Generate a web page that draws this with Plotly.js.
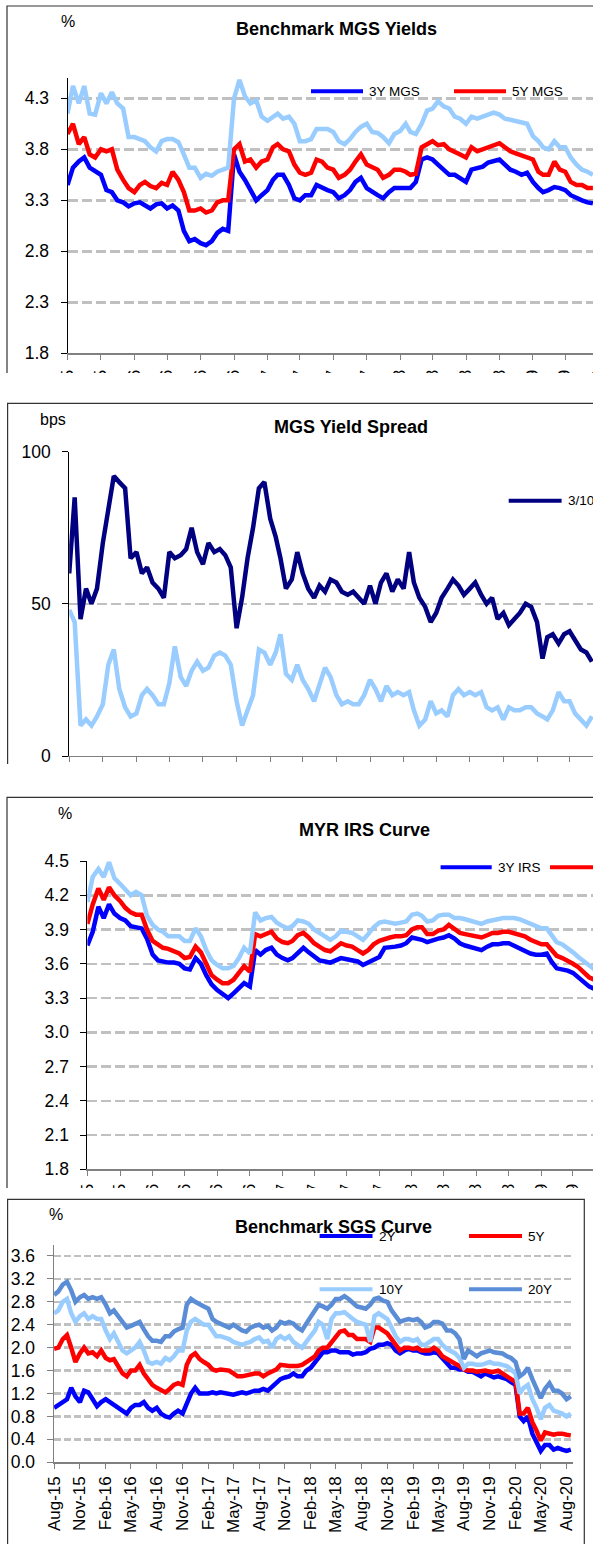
<!DOCTYPE html>
<html>
<head>
<meta charset="utf-8">
<script src="https://cdn.plot.ly/plotly-3.0.1.min.js"></script>
<style>
  html, body { margin: 0; padding: 0; background: #fff; width: 593px; height: 1544px; overflow: hidden; }
  .panel { position: absolute; left: 0; width: 593px; overflow: hidden; }
</style>
</head>
<body>
<div id="p1" class="panel" style="top:0px;height:373px"></div>
<div id="p2" class="panel" style="top:390px;height:374px"></div>
<div id="p3" class="panel" style="top:790px;height:398px"></div>
<div id="p4" class="panel" style="top:1190px;height:354px"></div>
<script>
// ---- axis ticks (quarterly) ----
const tickDates = ['2015-08-01','2015-11-01','2016-02-01','2016-05-01','2016-08-01','2016-11-01',
  '2017-02-01','2017-05-01','2017-08-01','2017-11-01','2018-02-01','2018-05-01','2018-08-01',
  '2018-11-01','2019-02-01','2019-05-01','2019-08-01','2019-11-01','2020-02-01','2020-05-01','2020-08-01'];
const tickLabels = ['Aug-15','Nov-15','Feb-16','May-16','Aug-16','Nov-16','Feb-17','May-17','Aug-17',
  'Nov-17','Feb-18','May-18','Aug-18','Nov-18','Feb-19','May-19','Aug-19','Nov-19','Feb-20','May-20','Aug-20'];

// ---- Benchmark MGS yields (%), twice-monthly from Aug-15 ----
const mgsNames = ['3Y MGS','5Y MGS','10Y MGS'];
const mgs3y = [3.45,3.62,3.68,3.72,3.62,3.58,3.55,3.40,3.38,3.30,
  3.28,3.24,3.27,3.28,3.25,3.22,3.26,3.27,3.22,3.25,
  3.20,3.00,2.90,2.92,2.88,2.86,2.90,2.98,3.02,3.00,
  3.75,3.58,3.50,3.40,3.30,3.35,3.40,3.50,3.55,3.55,
  3.45,3.32,3.30,3.35,3.35,3.45,3.42,3.40,3.38,3.32,
  3.35,3.40,3.48,3.52,3.42,3.38,3.35,3.32,3.38,3.42,
  3.42,3.43,3.42,3.48,3.70,3.72,3.70,3.65,3.60,3.55,
  3.55,3.52,3.48,3.60,3.62,3.63,3.67,3.68,3.70,3.65,
  3.60,3.58,3.55,3.57,3.48,3.42,3.38,3.40,3.43,3.42,
  3.40,3.35,3.32,3.30,3.28,3.27];
const mgs5y = [3.95,4.05,3.85,3.92,3.75,3.72,3.80,3.78,3.80,3.60,
  3.50,3.42,3.38,3.45,3.48,3.44,3.42,3.47,3.45,3.58,
  3.50,3.38,3.20,3.20,3.22,3.18,3.20,3.28,3.30,3.30,
  3.80,3.85,3.68,3.70,3.62,3.68,3.70,3.82,3.85,3.80,
  3.78,3.65,3.57,3.55,3.57,3.70,3.68,3.62,3.60,3.52,
  3.55,3.60,3.68,3.75,3.65,3.62,3.60,3.52,3.55,3.60,
  3.60,3.58,3.55,3.56,3.82,3.85,3.88,3.84,3.85,3.80,
  3.78,3.75,3.72,3.82,3.78,3.80,3.82,3.83,3.86,3.82,
  3.78,3.76,3.74,3.72,3.70,3.58,3.55,3.55,3.68,3.60,
  3.58,3.48,3.45,3.45,3.42,3.42];
const mgs10y = [4.15,4.42,4.25,4.42,4.15,4.14,4.35,4.25,4.36,4.25,
  4.20,3.92,3.92,3.90,3.88,3.82,3.78,3.88,3.90,3.90,
  3.87,3.75,3.62,3.62,3.52,3.56,3.54,3.58,3.60,3.62,
  4.30,4.48,4.32,4.25,4.28,4.12,4.08,4.12,4.15,4.10,
  4.12,4.05,3.88,3.88,3.90,4.00,4.00,4.00,3.97,3.88,
  3.85,3.90,3.97,4.02,4.05,3.97,3.96,3.92,3.86,3.95,
  3.98,4.05,3.97,3.95,4.05,4.18,4.20,4.27,4.22,4.20,
  4.12,4.10,4.05,4.12,4.10,4.12,4.15,4.16,4.14,4.10,
  4.09,4.08,4.07,4.05,3.93,3.88,3.82,3.80,3.88,3.82,
  3.82,3.72,3.65,3.60,3.58,3.55];

// ---- MGS yield spreads (bps) ----
const spreadNames = ['3/10','5/10'];
const spread310 = [60,85,45,55,50,55,70,80,92,90,
  88,65,67,60,62,57,55,52,67,65,
  66,68,75,67,63,70,67,68,66,62,
  42,52,65,75,88,90,78,72,65,55,
  58,67,60,55,52,56,54,58,57,54,
  53,54,52,50,56,50,57,60,54,58,
  55,67,57,52,49,44,47,52,55,58,
  56,53,55,57,53,50,52,45,47,43,
  45,47,50,49,44,32,39,40,37,40,
  41,38,35,34,31];
const spread510 = [48,44,10,12,10,13,17,30,35,22,
  16,13,14,20,22,20,17,17,24,36,
  26,23,28,31,28,29,33,34,33,30,
  18,10,15,20,35,34,30,34,40,27,
  25,30,25,22,18,24,29,26,20,17,
  18,17,17,20,25,22,18,23,20,21,
  20,21,15,10,12,18,14,15,13,20,
  22,20,21,20,21,16,15,16,12,16,
  15,15,16,16,14,13,12,15,21,18,
  18,14,12,10,13];

// ---- MYR IRS (%) ----
const irsNames = ['3Y IRS','5Y IRS','10Y IRS'];
const irs3y = [3.76,3.88,4.10,4.00,4.12,4.04,4.00,3.98,3.93,3.92,
  3.91,3.82,3.68,3.63,3.62,3.61,3.61,3.60,3.56,3.55,
  3.65,3.60,3.50,3.42,3.37,3.34,3.30,3.34,3.38,3.43,
  3.40,3.72,3.68,3.72,3.74,3.68,3.65,3.63,3.65,3.70,
  3.74,3.70,3.66,3.63,3.62,3.61,3.63,3.65,3.64,3.63,
  3.62,3.59,3.61,3.63,3.66,3.74,3.75,3.75,3.76,3.78,
  3.83,3.82,3.81,3.79,3.81,3.82,3.83,3.85,3.82,3.78,
  3.76,3.75,3.73,3.72,3.75,3.77,3.77,3.78,3.78,3.76,
  3.74,3.71,3.69,3.68,3.68,3.69,3.62,3.56,3.55,3.54,
  3.52,3.48,3.43,3.40,3.38];
const irs5y = [3.95,4.12,4.26,4.16,4.27,4.20,4.15,4.09,4.05,4.03,
  4.03,3.90,3.80,3.77,3.74,3.73,3.71,3.69,3.65,3.66,
  3.75,3.70,3.60,3.50,3.46,3.43,3.43,3.46,3.52,3.58,
  3.53,3.86,3.84,3.86,3.88,3.82,3.79,3.78,3.80,3.85,
  3.87,3.83,3.78,3.75,3.72,3.71,3.74,3.78,3.76,3.75,
  3.72,3.69,3.72,3.77,3.80,3.82,3.83,3.84,3.84,3.85,
  3.90,3.92,3.92,3.86,3.86,3.89,3.90,3.94,3.90,3.87,
  3.86,3.85,3.84,3.83,3.85,3.87,3.87,3.88,3.88,3.87,
  3.86,3.84,3.81,3.79,3.77,3.77,3.72,3.67,3.65,3.63,
  3.60,3.57,3.53,3.48,3.46];
const irs10y = [4.14,4.36,4.43,4.36,4.49,4.35,4.30,4.25,4.20,4.23,
  4.20,4.02,3.94,3.90,3.88,3.84,3.84,3.84,3.80,3.80,
  3.91,3.84,3.72,3.63,3.59,3.56,3.56,3.58,3.65,3.74,
  3.69,4.05,3.98,4.00,4.01,3.96,3.93,3.91,3.93,3.98,
  3.97,3.95,3.90,3.87,3.84,3.81,3.84,3.89,3.88,3.87,
  3.84,3.81,3.86,3.92,3.96,3.97,3.96,3.95,3.96,3.97,
  4.03,4.04,4.02,3.97,3.98,4.02,4.03,4.03,4.00,4.00,
  3.99,3.98,3.97,3.95,3.97,3.98,3.99,4.00,4.00,4.00,
  3.99,3.97,3.95,3.93,3.91,3.91,3.85,3.79,3.77,3.74,
  3.70,3.66,3.62,3.58,3.55];

// ---- Benchmark SGS (%) ----
const sgsNames = ['2Y','5Y','10Y','20Y'];
const sgs2y = [0.95,1.00,1.05,1.10,1.30,1.15,1.05,1.25,1.22,1.10,
  0.98,1.05,1.10,1.05,1.00,0.95,0.90,0.85,0.95,1.00,
  1.00,1.05,0.95,0.90,0.95,0.85,0.80,0.78,0.85,0.90,
  0.85,1.05,1.20,1.30,1.20,1.20,1.20,1.22,1.20,1.22,
  1.20,1.20,1.18,1.20,1.22,1.20,1.22,1.25,1.25,1.28,
  1.25,1.32,1.40,1.45,1.48,1.50,1.55,1.50,1.50,1.60,
  1.65,1.75,1.85,1.92,1.92,1.95,1.95,1.92,1.92,1.92,
  1.88,1.90,1.90,1.92,1.98,2.00,2.05,2.05,2.08,2.05,
  1.95,1.90,1.95,1.98,1.95,1.95,1.92,1.90,1.90,1.92,
  1.90,1.82,1.72,1.65,1.65,1.62,1.62,1.58,1.58,1.55,
  1.50,1.55,1.52,1.48,1.50,1.48,1.45,1.40,1.35,0.80,
  0.72,0.80,0.50,0.35,0.20,0.30,0.30,0.22,0.25,0.22,
  0.20,0.22];
const sgs5y = [1.98,2.00,2.15,2.22,2.00,1.75,1.90,2.00,1.90,1.92,
  1.85,1.95,1.82,1.78,1.80,1.68,1.55,1.50,1.60,1.60,
  1.70,1.55,1.45,1.35,1.30,1.25,1.22,1.28,1.35,1.38,
  1.35,1.70,1.85,1.90,1.80,1.75,1.70,1.62,1.60,1.62,
  1.60,1.60,1.55,1.50,1.50,1.52,1.55,1.55,1.55,1.50,
  1.55,1.58,1.62,1.70,1.68,1.68,1.68,1.68,1.70,1.75,
  1.80,1.85,1.95,2.00,2.00,2.10,2.20,2.28,2.30,2.22,
  2.22,2.15,2.15,2.15,2.10,2.35,2.35,2.30,2.25,2.15,
  2.05,1.95,2.00,2.00,1.98,2.00,1.95,1.95,1.95,2.00,
  1.95,1.85,1.80,1.75,1.72,1.68,1.62,1.60,1.60,1.58,
  1.60,1.60,1.58,1.58,1.60,1.55,1.50,1.45,1.40,0.85,
  0.85,0.95,0.70,0.55,0.38,0.52,0.50,0.48,0.50,0.50,
  0.48,0.47];
const sgs10y = [2.60,2.65,2.80,2.85,2.60,2.45,2.55,2.60,2.50,2.55,
  2.50,2.50,2.30,2.15,2.25,2.10,1.95,1.90,1.95,2.00,
  2.10,1.95,1.75,1.72,1.75,1.72,1.82,1.78,1.85,1.95,
  1.95,2.30,2.45,2.50,2.45,2.40,2.40,2.28,2.20,2.20,
  2.18,2.15,2.10,2.08,2.05,2.08,2.10,2.15,2.18,2.10,
  2.12,2.00,2.15,2.20,2.15,2.20,2.10,2.05,2.00,2.10,
  2.20,2.30,2.45,2.40,2.15,2.50,2.60,2.60,2.62,2.55,
  2.50,2.45,2.42,2.40,2.10,2.55,2.60,2.55,2.50,2.35,
  2.20,2.10,2.15,2.15,2.12,2.15,2.05,2.05,2.10,2.15,
  2.15,2.05,1.98,1.95,1.90,1.82,1.65,1.72,1.72,1.70,
  1.70,1.72,1.75,1.72,1.72,1.70,1.68,1.62,1.55,1.20,
  1.30,1.35,1.10,0.95,0.75,0.95,1.00,0.90,0.88,0.85,
  0.80,0.85];
const sgs20y = [2.92,2.98,3.10,3.15,3.00,2.80,2.88,2.92,2.85,2.88,
  2.85,2.88,2.75,2.60,2.65,2.55,2.42,2.35,2.38,2.42,
  2.45,2.32,2.20,2.12,2.12,2.10,2.20,2.20,2.28,2.32,
  2.35,2.75,2.85,2.80,2.75,2.72,2.68,2.50,2.45,2.42,
  2.40,2.35,2.40,2.35,2.30,2.28,2.35,2.38,2.40,2.35,
  2.38,2.30,2.35,2.45,2.42,2.45,2.42,2.35,2.30,2.42,
  2.55,2.65,2.75,2.72,2.68,2.75,2.85,2.85,2.90,2.85,
  2.78,2.72,2.70,2.68,2.75,2.85,2.87,2.82,2.80,2.65,
  2.55,2.45,2.48,2.50,2.48,2.50,2.45,2.35,2.38,2.45,
  2.45,2.42,2.30,2.30,2.25,2.15,1.80,1.95,1.90,1.85,
  1.90,1.92,1.95,1.92,1.90,1.90,1.85,1.82,1.75,1.50,
  1.55,1.65,1.45,1.30,1.12,1.28,1.38,1.25,1.25,1.20,
  1.10,1.15];

// ---- drawing ----
const FONT = 'Liberation Sans, Arial, Helvetica, sans-serif';
const COL = { blue: '#0000FF', red: '#FF0000', light: '#99CCFF', navy: '#000080', steel: '#5B8DD6' };

// Observation dates: the 1st and 16th of each month starting Aug-2015
function halfMonthDates(n) {
  const out = [];
  for (let k = 0; k < n; k++) {
    const m = 7 + Math.floor(k / 2);
    const y = 2015 + Math.floor(m / 12);
    const mm = String((m % 12) + 1).padStart(2, '0');
    out.push(y + '-' + mm + '-' + (k % 2 ? '16' : '01'));
  }
  return out;
}

function addDays(iso, days) {
  const d = new Date(iso + 'T00:00:00Z');
  d.setTime(d.getTime() + days * 86400000);
  return d.toISOString().slice(0, 19).replace('T', ' ');
}

function drawPanel(id, p) {
  const X = v => v / p.W;
  const Y = v => 1 - v / p.H;
  const xs = halfMonthDates(p.series[0].values.length);
  const start = '2015-08-01';
  const end = addDays(start, (p.plot.r - p.plot.l) / p.pxPerDay);

  const data = p.series.map(s => ({
    type: 'scatter', mode: 'lines', x: xs, y: s.values, name: s.name,
    line: { color: s.color, width: 4.5 }, hoverinfo: 'skip'
  }));

  const shapes = [{
    type: 'rect', xref: 'paper', yref: 'paper', layer: 'below',
    x0: X(p.frame[0]), x1: X(p.frame[2]), y0: Y(p.frame[1]), y1: Y(p.frame[3]),
    line: { color: '#333333', width: 1.2 }, fillcolor: 'rgba(0,0,0,0)'
  }];
  const annotations = [
    { text: '<b>' + p.title + '</b>', xref: 'paper', yref: 'paper', x: X(p.titleAt[0]), y: Y(p.titleAt[1]),
      xanchor: 'center', yanchor: 'middle', showarrow: false, font: { family: FONT, size: 18, color: '#000' } },
    { text: p.unit, xref: 'paper', yref: 'paper', x: X(p.unitAt[0]), y: Y(p.unitAt[1]),
      xanchor: 'center', yanchor: 'middle', showarrow: false, font: { family: FONT, size: 16, color: '#000' } }
  ];
  p.series.forEach((s, i) => {
    const L = p.legend[i];
    shapes.push({ type: 'line', xref: 'paper', yref: 'paper', x0: X(L[0]), x1: X(L[1]), y0: Y(L[2]), y1: Y(L[2]),
      line: { color: s.color, width: 4 } });
    annotations.push({ text: s.name, xref: 'paper', yref: 'paper', x: X(L[1] + 4), y: Y(L[2]),
      xanchor: 'left', yanchor: 'middle', showarrow: false, font: { family: FONT, size: 13.5, color: '#000' } });
  });

  const layout = {
    width: p.W, height: p.H,
    margin: { l: 0, r: 0, t: 0, b: 0 },
    paper_bgcolor: '#ffffff', plot_bgcolor: 'rgba(0,0,0,0)',
    showlegend: false,
    font: { family: FONT, color: '#000' },
    xaxis: {
      type: 'date', domain: [X(p.plot.l), X(p.plot.r)], range: [start, end],
      tickmode: 'array', tickvals: tickDates, ticktext: tickLabels, tickangle: -90,
      ticks: 'outside', ticklen: 5, tickcolor: '#808080', tickwidth: 1,
      showline: true, linecolor: '#808080', linewidth: 1.2,
      showgrid: false, zeroline: false, fixedrange: true,
      ticklabelstandoff: p.xStandoff,
      tickfont: { family: FONT, size: p.xFont, color: '#000' }
    },
    yaxis: {
      domain: [Y(p.plot.b), Y(p.plot.t)], range: p.yRange, tick0: p.yRange[0], dtick: p.dtick,
      tickformat: p.yFormat, ticks: 'outside', ticklen: 6, tickcolor: p.yLine, tickwidth: 1,
      showline: true, linecolor: p.yLine, linewidth: p.yLineWidth,
      showgrid: true, gridcolor: '#C0C0C0', gridwidth: 2.5, griddash: p.dash,
      zeroline: false, fixedrange: true, ticklabelstandoff: 8,
      tickfont: { family: FONT, size: 17.5, color: '#000' }
    },
    shapes: shapes, annotations: annotations
  };
  Plotly.newPlot(id, data, layout, { displayModeBar: false, staticPlot: true });
}

drawPanel('p1', {
  W: 660, H: 440, plot: { l: 67.5, r: 650, t: 77.9, b: 353.3 }, pxPerDay: 0.3636,
  yRange: [1.8, 4.5], dtick: 0.5, yFormat: '.1f', xFont: 16, xStandoff: 4,
  yLine: '#000000', yLineWidth: 1, dash: '10px,4px',
  frame: [7, 6, 700, 480], title: 'Benchmark MGS Yields', titleAt: [336.5, 29.5],
  unit: '%', unitAt: [68, 21],
  series: [
    { name: mgsNames[0], values: mgs3y, color: COL.blue },
    { name: mgsNames[1], values: mgs5y, color: COL.red },
    { name: mgsNames[2], values: mgs10y, color: COL.light }
  ],
  legend: [[311, 363, 91.3], [454, 506, 91.3], [597, 649, 91.3]]
});

drawPanel('p2', {
  W: 660, H: 440, plot: { l: 69.2, r: 650, t: 61.7, b: 366 }, pxPerDay: 0.3655,
  yRange: [0, 100], dtick: 50, yFormat: 'd', xFont: 16, xStandoff: 6,
  yLine: '#000000', yLineWidth: 1, dash: '10px,4px',
  frame: [7.6, 13.3, 700, 480], title: 'MGS Yield Spread', titleAt: [351.4, 36.5],
  unit: 'bps', unitAt: [52.5, 29],
  series: [
    { name: spreadNames[0], values: spread310, color: COL.navy },
    { name: spreadNames[1], values: spread510, color: COL.light }
  ],
  legend: [[508.7, 561.6, 110.7], [640, 693, 110.7]]
});

drawPanel('p3', {
  W: 660, H: 460, plot: { l: 87.4, r: 650, t: 71, b: 379.3 }, pxPerDay: 0.3547,
  yRange: [1.8, 4.5], dtick: 0.3, yFormat: '.1f', xFont: 16, xStandoff: 2,
  yLine: '#000000', yLineWidth: 1, dash: '10px,4px',
  frame: [7, 7.3, 700, 500], title: 'MYR IRS Curve', titleAt: [364, 39.5],
  unit: '%', unitAt: [64.7, 23.3],
  series: [
    { name: irsNames[0], values: irs3y, color: COL.blue },
    { name: irsNames[1], values: irs5y, color: COL.red },
    { name: irsNames[2], values: irs10y, color: COL.light }
  ],
  legend: [[440.6, 491.7, 77.3], [550, 601, 77.3], [660, 711, 77.3]]
});

drawPanel('p4', {
  W: 593, H: 354, plot: { l: 54.1, r: 573, t: 54.5, b: 272.3 }, pxPerDay: 0.2805,
  yRange: [0, 3.8], dtick: 0.4, yFormat: '.1f', xFont: 17, xStandoff: 1,
  yLine: '#808080', yLineWidth: 1.5, dash: '7px,3px',
  frame: [7.6, 9.3, 584.3, 400], title: 'Benchmark SGS Curve', titleAt: [333.8, 37],
  unit: '%', unitAt: [56, 25],
  series: [
    { name: sgsNames[0], values: sgs2y, color: COL.blue },
    { name: sgsNames[1], values: sgs5y, color: COL.red },
    { name: sgsNames[2], values: sgs10y, color: COL.light },
    { name: sgsNames[3], values: sgs20y, color: COL.steel }
  ],
  legend: [[319.6, 372.5, 46], [469, 522, 46], [319.6, 372.5, 99.3], [469, 522, 99.3]]
});
</script>
</body>
</html>
